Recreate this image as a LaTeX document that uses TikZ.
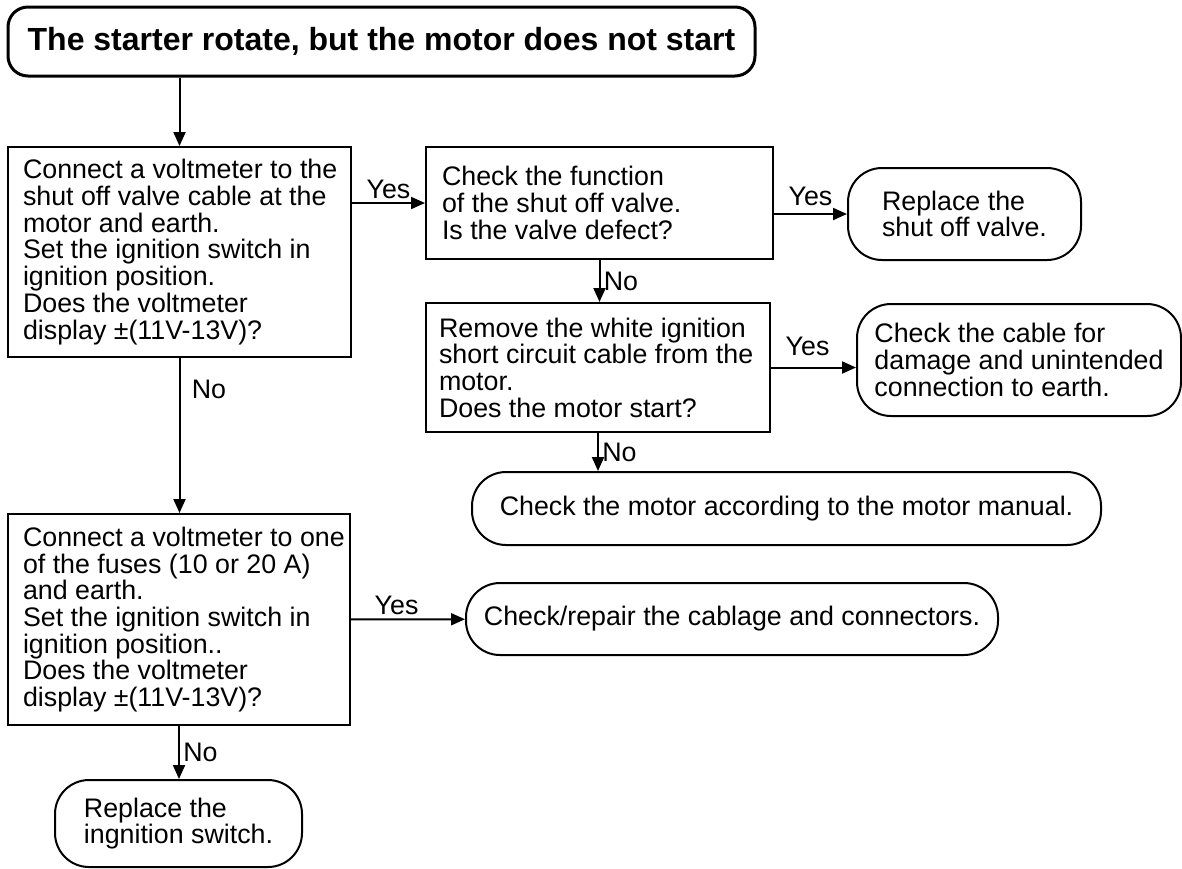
\documentclass[tikz,border=0pt]{standalone}
\usepackage{fontspec}
\setmainfont{Liberation Sans}
\usetikzlibrary{arrows.meta}

\begin{document}
\begin{tikzpicture}[
  x=1pt,y=-1pt,
  font=\fontsize{26.8}{26.7}\selectfont,
  box/.style={draw,line width=2pt,align=flush left,inner ysep=0pt},
  pill/.style={draw,line width=2pt,rounded corners=34pt,align=left,inner sep=0pt},
  flow/.style={line width=2pt,-{Triangle[length=14pt,width=12pt]}}
]
\useasboundingbox (0,0) rectangle (1182,868);

\node[draw,line width=3pt,rounded corners=20pt,inner sep=0pt,minimum width=747,minimum height=69,font=\fontsize{32}{34}\selectfont\bfseries] (title) at (381.5,41.5) {The starter rotate, but the motor does not start};

\node[box,inner xsep=15pt,text width=313,minimum height=210] (q1) at (179.5,252) {\mbox{Connect a voltmeter to the}\\\mbox{shut off valve cable at the}\\motor and earth.\\Set the ignition switch in\\ignition position.\\Does the voltmeter\\display ±(11V-13V)?};
\node[box,inner xsep=16pt,text width=315,minimum height=112] (q2) at (599.5,203) {Check the function\\of the shut off valve.\\Is the valve defect?};
\node[box,inner xsep=13pt,text width=318,minimum height=129] (q3) at (598,367.5) {Remove the white ignition\\\mbox{short circuit cable from the}\\motor.\\Does the motor start?};
\node[box,inner xsep=15pt,text width=312,minimum height=211] (q4) at (179,619.5) {\mbox{Connect a voltmeter to one}\\of the fuses (10 or 20 A)\\and earth.\\Set the ignition switch in\\ignition position..\\Does the voltmeter\\display ±(11V-13V)?};

\node[pill,minimum width=233,minimum height=92] (valve) at (964.5,214) {Replace the\\shut off valve.};
\node[pill,minimum width=324,minimum height=112] (cable) at (1019,360) {Check the cable for\\damage and unintended\\connection to earth.};
\node[pill,minimum width=629,minimum height=73] (manual) at (786.5,508.5) {Check the motor according to the motor manual.};
\node[pill,minimum width=532,minimum height=72] (repair) at (732,619) {Check/repair the cablage and connectors.};
\node[pill,minimum width=247,minimum height=87] (ignition) at (178.5,823.5) {Replace the\\ingnition switch.};

\draw[flow] (title.south -| q1.north) -- (q1.north);
\draw[flow] (q1.east |- q2) -- node[above] {Yes} (q2);
\draw[flow] (q2.east |- valve) -- node[above=4pt] {Yes} (valve);
\draw[flow] (q2.south) -- node[right] {No} (q2.south |- q3.north);
\draw[flow] (q3.east) -- node[above=7pt,pos=0.43] {Yes} (cable.west |- q3.east);
\draw[flow] (q3.south) -- node[right] {No} (q3.south |- manual.north);
\draw[flow] (q1.south) -- node[right=8pt,pos=0.2] {No} (q1.south |- q4.north);
\draw[flow] (q4) -- node[above,pos=0.4] {Yes} (repair);
\draw[flow] (q4.south) -- node[right] {No} (q4.south |- ignition.north);
\end{tikzpicture}
\end{document}
